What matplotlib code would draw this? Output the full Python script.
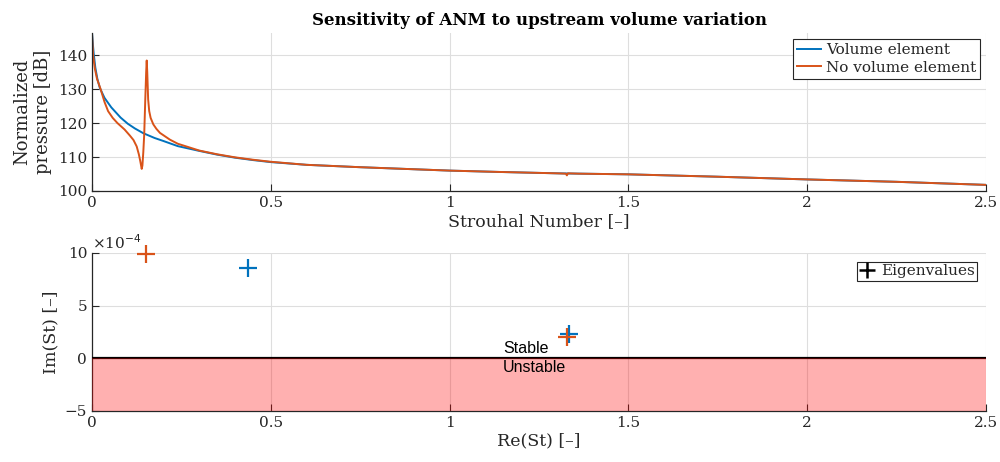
import matplotlib
matplotlib.use("Agg")
import matplotlib.pyplot as plt
from matplotlib.ticker import FuncFormatter

# ---- data ----
st_vol = [0.0, 0.003, 0.0047, 0.0093, 0.015, 0.022, 0.035, 0.054, 0.08, 0.1, 0.12, 0.1435,
          0.175, 0.2, 0.24, 0.3, 0.35, 0.4, 0.45, 0.5, 0.6, 0.75, 0.9, 1.0, 1.14, 1.3, 1.5,
          1.75, 2.0, 2.25, 2.5]
p_vol = [146.6, 142.5, 140.5, 136.3, 133.0, 130.3, 127.4, 124.6, 121.6, 119.8, 118.4, 117.0,
         115.6, 114.7, 113.2, 111.8, 110.7, 109.8, 109.1, 108.5, 107.7, 107.0, 106.4, 106.0,
         105.6, 105.2, 104.9, 104.2, 103.4, 102.7, 101.8]

st_novol = [0.0, 0.003, 0.008, 0.014, 0.024, 0.035, 0.045, 0.058, 0.071, 0.091, 0.106, 0.116,
            0.125, 0.131, 0.135, 0.139, 0.141, 0.1435, 0.146, 0.149, 0.1515, 0.153, 0.1545,
            0.157, 0.160, 0.164, 0.1715, 0.18, 0.19, 0.218, 0.24, 0.3, 0.35, 0.4, 0.45, 0.5,
            0.6, 0.75, 0.9, 1.0, 1.14, 1.3, 1.325, 1.328, 1.331, 1.36, 1.5, 1.75, 2.0, 2.25, 2.5]
p_novol = [146.3, 140.0, 136.0, 133.0, 130.0, 126.2, 123.5, 121.5, 120.0, 118.1, 116.3, 115.0,
           113.1, 110.8, 108.8, 106.5, 107.5, 111.5, 116.6, 127.0, 135.0, 138.4, 135.0,
           127.0, 123.5, 121.5, 119.6, 118.3, 117.1, 115.1, 113.9, 111.9, 110.8, 109.9, 109.2, 108.6,
           107.7, 107.0, 106.4, 106.0, 105.6, 105.2, 105.1, 104.6, 105.2, 105.1, 104.9, 104.2,
           103.4, 102.7, 101.8]

eig_re_vol = [0.437, 1.334]
eig_im_vol = [8.57e-4, 2.3e-4]
eig_re_novol = [0.151, 1.329]
eig_im_novol = [9.9e-4, 2.0e-4]

xticks = [0, 0.5, 1, 1.5, 2, 2.5]
xtick_labels = ["0", "0.5", "1", "1.5", "2", "2.5"]
yticks_top = [100, 110, 120, 130, 140]
yticks_bot = [-5e-4, 0, 5e-4, 10e-4]

blue = "#0072BD"
orange = "#D95319"
serif = ["DejaVu Serif"]

plt.rcParams["font.family"] = serif
plt.rcParams["font.size"] = 11
plt.rcParams["axes.linewidth"] = 0.9
plt.rcParams["xtick.direction"] = "in"
plt.rcParams["ytick.direction"] = "in"
plt.rcParams["axes.edgecolor"] = "#262626"
plt.rcParams["xtick.color"] = "#262626"
plt.rcParams["ytick.color"] = "#262626"
plt.rcParams["text.color"] = "#262626"
plt.rcParams["axes.labelcolor"] = "#262626"

fig = plt.figure(figsize=(10, 4.62), dpi=100)
ax1 = fig.add_axes([0.092, 0.5866, 0.894, 0.342])
ax2 = fig.add_axes([0.092, 0.1104, 0.894, 0.342])

for ax in (ax1, ax2):
    for s in ("top", "right"):
        ax.spines[s].set_visible(False)
    ax.grid(True, color="#dedede", linewidth=0.8)
    ax.set_axisbelow(True)
    ax.set_xlim(0, 2.5)
    ax.set_xticks(xticks)
    ax.set_xticklabels(xtick_labels)
    ax.tick_params(length=5, width=0.8, labelsize=11)

# ---- top ----
ax1.plot(st_vol, p_vol, color=blue, lw=1.4, label="Volume element")
ax1.plot(st_novol, p_novol, color=orange, lw=1.4, label="No volume element")
ax1.set_ylim(100, 146.5)
ax1.set_yticks(yticks_top)
ax1.set_xlabel("Strouhal Number [–]", fontsize=12.5, labelpad=2)
ax1.set_ylabel("Normalized\npressure [dB]", fontsize=13, labelpad=4, linespacing=1.25)
ax1.set_title("Sensitivity of ANM to upstream volume variation", fontsize=12,
              fontweight="bold", pad=6, color="black")
leg1 = ax1.legend(loc="upper right", fancybox=False, edgecolor="#262626", framealpha=1,
                  handlelength=1.6, handletextpad=0.3, borderpad=0.25, labelspacing=0.25,
                  borderaxespad=0.4, fontsize=11)
leg1.get_frame().set_linewidth(0.8)

# ---- bottom ----
ax2.plot(eig_re_vol, eig_im_vol, "+", color=blue, ms=12.5, mew=1.6, clip_on=False, zorder=7)
ax2.plot(eig_re_novol, eig_im_novol, "+", color=orange, ms=12.5, mew=1.6, clip_on=False, zorder=7)
ax2.plot([], [], "+", color="black", ms=11, mew=1.8, label="Eigenvalues")
ax2.axhline(0, color="black", lw=1.6, zorder=4)
ax2.axhspan(-5e-4, 0, color="red", alpha=0.31, lw=0, zorder=5)
ax2.set_ylim(-5e-4, 10e-4)
ax2.set_yticks(yticks_bot)
ax2.yaxis.set_major_formatter(FuncFormatter(lambda v, p: f"{v*1e4:g}".replace("-", "\u2212")))
ax2.text(0, 1.005, "×10$^{-4}$", transform=ax2.transAxes, fontsize=11, va="bottom", ha="left")
ax2.text(1.15, 0.2e-4, "Stable", family=["Liberation Sans"], fontsize=11.5, ha="left",
         va="bottom", color="black")
ax2.text(1.15, -0.2e-4, "Unstable", family=["Liberation Sans"], fontsize=11.5, ha="left",
         va="top", zorder=6, color="black")
ax2.set_xlabel("Re(St) [–]", fontsize=12.5, labelpad=2)
ax2.set_ylabel("Im(St) [–]", fontsize=12.5, labelpad=4)
leg2 = ax2.legend(loc="upper right", fancybox=False, edgecolor="#262626", framealpha=1,
                  handlelength=1.0, handletextpad=0.4, borderpad=0.15, borderaxespad=0.6,
                  fontsize=11)
leg2.get_frame().set_linewidth(0.8)

fig.savefig("out.png", dpi=100)
